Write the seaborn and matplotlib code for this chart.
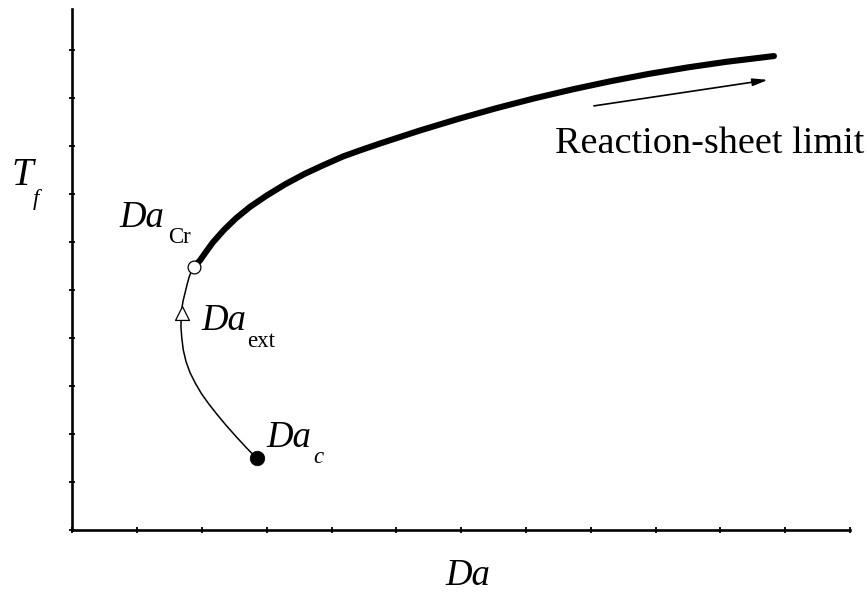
import matplotlib
matplotlib.use("Agg")
import matplotlib.pyplot as plt
import seaborn as sns
import pandas as pd

# Flame-temperature response curve T_f versus Damkoehler number Da
upper_da = [1.875, 1.968, 2.060, 2.168, 2.338, 2.523, 2.739, 2.994, 3.279,
            3.588, 3.881, 4.174, 4.468, 4.761, 5.363, 5.949, 6.535, 7.122,
            7.724, 8.310, 8.897, 9.498, 10.085, 10.826]
upper_tf = [5.485, 5.615, 5.792, 5.992, 6.250, 6.492, 6.729, 6.963, 7.198,
            7.421, 7.604, 7.779, 7.921, 8.056, 8.321, 8.560, 8.783, 8.988,
            9.179, 9.348, 9.500, 9.635, 9.750, 9.871]

lower_da = [2.843, 2.685, 2.534, 2.377, 2.225, 2.099, 1.994, 1.898, 1.813,
            1.752, 1.710, 1.687, 1.674, 1.677, 1.685, 1.705, 1.736, 1.767,
            1.802, 1.836, 1.875]
lower_tf = [1.494, 1.7125, 1.933, 2.171, 2.417, 2.635, 2.833, 3.052, 3.281,
            3.510, 3.750, 4.000, 4.235, 4.417, 4.583, 4.760, 4.931, 5.104,
            5.277, 5.385, 5.485]

# Special points on the curve
da_cr = (1.875, 5.485)
da_ext = (1.685, 4.515)
da_c = (2.843, 1.494)

# Direction arrow toward the reaction-sheet limit
arrow_start = (8.048, 8.833)
arrow_end = (10.733, 9.375)

x_ticks = list(range(0, 13))
y_ticks = list(range(0, 11))

sns.set_style("ticks")
plt.rcParams["font.family"] = ["Liberation Serif", "DejaVu Serif"]
plt.rcParams["text.color"] = "black"

fig = plt.figure(figsize=(8.67, 5.95), dpi=100)
ax = fig.add_axes([0.0836, 0.1092, 0.8968, 0.8756])

upper = pd.DataFrame({"Da": upper_da, "Tf": upper_tf})
lower = pd.DataFrame({"Da": lower_da, "Tf": lower_tf})

sns.lineplot(data=lower, x="Da", y="Tf", sort=False, estimator=None,
             color="black", linewidth=1.1, ax=ax, zorder=2,
             solid_joinstyle="round")
sns.lineplot(data=upper, x="Da", y="Tf", sort=False, estimator=None,
             color="black", linewidth=4.4, ax=ax, zorder=3,
             solid_capstyle="round", solid_joinstyle="round")

sns.scatterplot(x=[da_ext[0]], y=[da_ext[1]], marker="^", s=100,
                facecolor="white", edgecolor="black", linewidth=0.9,
                ax=ax, zorder=5)
sns.scatterplot(x=[da_cr[0]], y=[da_cr[1]], marker="o", s=85,
                facecolor="white", edgecolor="black", linewidth=0.9,
                ax=ax, zorder=5)
sns.scatterplot(x=[da_c[0]], y=[da_c[1]], marker="o", s=110,
                color="black", edgecolor="black", linewidth=0.5,
                ax=ax, zorder=5)

ax.annotate("", xy=arrow_end, xytext=arrow_start,
            arrowprops=dict(arrowstyle="-|>,head_length=0.9,head_width=0.22",
                            color="black", lw=1.2, shrinkA=0, shrinkB=0))

big = 26.5
small = 16.5
ax.text(0.72, 6.313, "Da", fontsize=big, style="italic", va="baseline", ha="left")
ax.text(1.47, 5.979, "Cr", fontsize=small, va="baseline", ha="left")
ax.text(1.985, 4.167, "Da", fontsize=big, style="italic", va="baseline", ha="left")
ax.text(2.70, 3.8125, "ext", fontsize=small, va="baseline", ha="left")
ax.text(3.00, 1.729, "Da", fontsize=big, style="italic", va="baseline", ha="left")
ax.text(3.72, 1.396, "c", fontsize=small, style="italic", va="baseline", ha="left")

ax.text(7.446, 7.854, "Reaction-sheet limit", fontsize=27.5, va="baseline", ha="left")

# Axis labels
ax.text(-0.935, 7.1875, "T", fontsize=28, style="italic", va="baseline", ha="left")
ax.text(-0.62, 6.76, "f", fontsize=small, style="italic", va="baseline", ha="left")
ax.text(5.76, -1.146, "Da", fontsize=big, style="italic", va="baseline", ha="left")

ax.set_xlim(0, 12)
ax.set_ylim(0, 10.85)
ax.set_xticks(x_ticks)
ax.set_yticks(y_ticks)
ax.set_xticklabels([])
ax.set_yticklabels([])
ax.set_xlabel("")
ax.set_ylabel("")
ax.tick_params(direction="inout", length=4, width=1.3, color="black")
for side in ["top", "right"]:
    ax.spines[side].set_visible(False)
for side in ["left", "bottom"]:
    ax.spines[side].set_linewidth(1.9)
    ax.spines[side].set_color("black")

fig.savefig("out.png", dpi=100)
